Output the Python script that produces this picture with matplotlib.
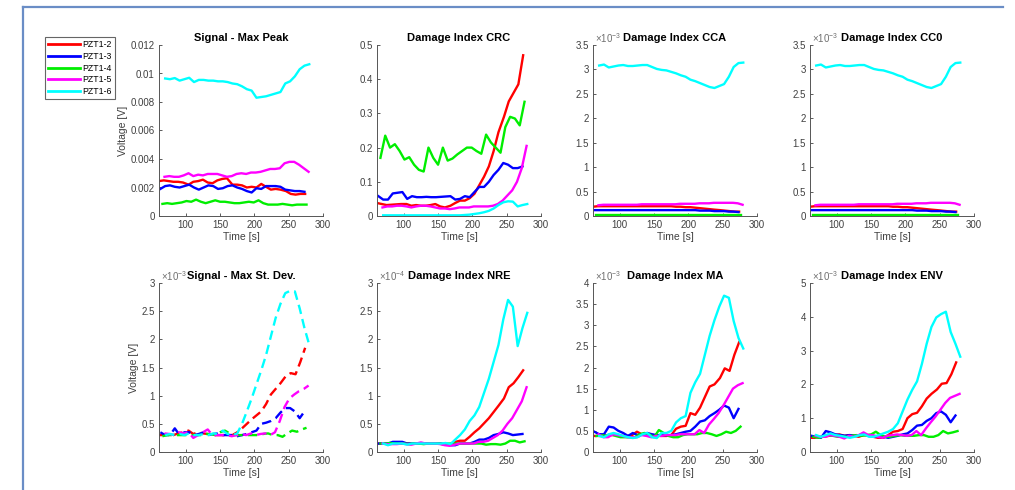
import matplotlib
matplotlib.use('Agg')
import matplotlib.pyplot as plt
from matplotlib.ticker import FuncFormatter
from matplotlib.lines import Line2D

plt.rcParams['font.family'] = ['Liberation Sans', 'DejaVu Sans']

# ---------------- data ----------------
sensors = ['PZT1-2', 'PZT1-3', 'PZT1-4', 'PZT1-5', 'PZT1-6']
colors = ['#ff0000', '#0000ff', '#00ee00', '#ff00ff', '#00ffff']

t_r = [61, 68, 75, 82, 89, 96, 104, 111, 118, 125, 132, 139, 146, 153, 160, 168, 175, 182, 189, 196,
       203, 210, 217, 224, 231, 238, 246, 253, 260, 267, 274]
t_b = [63, 70, 77, 84, 91, 98, 105, 112, 119, 126, 133, 140, 147, 154, 161, 168, 175, 182, 189, 196,
       203, 210, 217, 224, 231, 238, 245, 252, 259, 266, 273]
t_g = [66, 73, 80, 87, 94, 101, 108, 115, 122, 129, 136, 143, 150, 157, 164, 171, 178, 185, 192, 199,
       206, 213, 220, 227, 234, 241, 248, 255, 262, 269, 276]
t_m = [69, 76, 83, 90, 97, 104, 111, 118, 125, 132, 139, 146, 153, 160, 167, 174, 181, 188, 195, 202,
       209, 216, 223, 230, 237, 244, 251, 258, 265, 272, 279]
t_c = [70, 77, 84, 91, 98, 105, 112, 119, 126, 133, 140, 147, 154, 161, 168, 175, 182, 189, 196, 203,
       210, 217, 224, 231, 238, 245, 252, 259, 266, 273, 280]
times = [t_r, t_b, t_g, t_m, t_c]

# Signal - Max Peak [mV]
peak_r = [2.45, 2.5, 2.45, 2.4, 2.4, 2.35, 2.2, 2.4, 2.45, 2.55, 2.35, 2.3, 2.5, 2.6, 2.65, 2.2, 2.2, 2.15, 2.0, 2.05,
          2.0, 2.25, 2.05, 1.85, 1.9, 1.85, 1.75, 1.55, 1.5, 1.55, 1.55]
peak_b = [1.9, 2.1, 2.15, 2.05, 2.0, 2.1, 2.2, 2.0, 1.85, 2.0, 2.15, 2.1, 1.9, 1.95, 2.1, 2.15, 2.0, 1.9, 1.75, 1.65,
          1.95, 1.9, 2.1, 2.1, 2.1, 2.05, 1.85, 1.8, 1.75, 1.75, 1.7]
peak_g = [0.85, 0.9, 0.85, 0.9, 0.95, 1.05, 1.0, 1.15, 1.0, 0.9, 1.0, 1.1, 1.0, 1.0, 0.95, 0.9, 0.9, 0.95, 1.0, 0.95,
          1.1, 0.9, 0.8, 0.8, 0.8, 0.85, 0.8, 0.75, 0.8, 0.8, 0.8]
peak_m = [2.75, 2.8, 2.75, 2.75, 2.85, 3.0, 2.8, 2.9, 2.85, 2.95, 2.95, 2.95, 2.85, 2.75, 2.8, 2.95, 3.0, 2.95, 3.05, 3.05,
          3.1, 3.2, 3.3, 3.3, 3.35, 3.7, 3.8, 3.8, 3.6, 3.35, 3.1]
peak_c = [9.65, 9.6, 9.68, 9.5, 9.6, 9.7, 9.4, 9.55, 9.55, 9.5, 9.5, 9.45, 9.45, 9.4, 9.3, 9.25, 9.1, 8.9, 8.8, 8.3,
          8.35, 8.4, 8.5, 8.6, 8.7, 9.3, 9.45, 9.8, 10.3, 10.55, 10.65]

# Damage Index CRC
crc_r = [0.038, 0.035, 0.032, 0.033, 0.034, 0.035, 0.035, 0.03, 0.032, 0.03, 0.03, 0.032, 0.035, 0.028, 0.025, 0.03,
         0.038, 0.045, 0.045, 0.052, 0.065, 0.09, 0.115, 0.145, 0.19, 0.245, 0.29, 0.335, 0.36, 0.385, 0.47]
crc_b = [0.058, 0.048, 0.048, 0.066, 0.068, 0.07, 0.05, 0.058, 0.055, 0.055, 0.056, 0.055, 0.055, 0.056, 0.057, 0.058,
         0.048, 0.05, 0.058, 0.055, 0.07, 0.085, 0.085, 0.1, 0.12, 0.135, 0.155, 0.15, 0.14, 0.14, 0.145]
crc_g = [0.17, 0.235, 0.2, 0.21, 0.19, 0.165, 0.172, 0.15, 0.135, 0.13, 0.2, 0.17, 0.15, 0.2, 0.162, 0.168, 0.18, 0.19,
         0.2, 0.2, 0.19, 0.182, 0.238, 0.215, 0.2, 0.185, 0.26, 0.29, 0.285, 0.265, 0.334]
crc_m = [0.025, 0.028, 0.028, 0.03, 0.03, 0.028, 0.025, 0.028, 0.03, 0.03, 0.028, 0.025, 0.022, 0.022, 0.02, 0.022,
         0.025, 0.025, 0.025, 0.028, 0.028, 0.028, 0.028, 0.03, 0.035, 0.045, 0.06, 0.075, 0.1, 0.14, 0.205]
crc_c = [0.002, 0.002, 0.002, 0.002, 0.002, 0.002, 0.002, 0.002, 0.002, 0.002, 0.002, 0.002, 0.002, 0.002, 0.002,
         0.002, 0.002, 0.003, 0.004, 0.006, 0.008, 0.011, 0.015, 0.022, 0.032, 0.04, 0.043, 0.042, 0.028, 0.032, 0.035]

# Damage Index CCA / CC0 [x1e-3]
cca_r = [0.19, 0.2, 0.2, 0.2, 0.2, 0.2, 0.2, 0.2, 0.2, 0.2, 0.2, 0.2, 0.2, 0.2, 0.2, 0.2, 0.2, 0.19, 0.19, 0.18,
         0.18, 0.17, 0.16, 0.15, 0.14, 0.13, 0.12, 0.11, 0.1, 0.09, 0.09]
cca_b = [0.12, 0.12, 0.12, 0.12, 0.12, 0.12, 0.12, 0.12, 0.12, 0.12, 0.12, 0.12, 0.12, 0.12, 0.12, 0.12, 0.12, 0.12,
         0.12, 0.12, 0.12, 0.12, 0.11, 0.11, 0.11, 0.1, 0.1, 0.1, 0.09, 0.09, 0.08]
cca_g = [0.03, 0.03, 0.03, 0.03, 0.03, 0.03, 0.03, 0.03, 0.03, 0.03, 0.03, 0.03, 0.03, 0.03, 0.03, 0.03, 0.03, 0.03,
         0.03, 0.03, 0.03, 0.03, 0.03, 0.03, 0.03, 0.03, 0.03, 0.03, 0.03, 0.03, 0.03]
cca_m = [0.22, 0.23, 0.23, 0.23, 0.23, 0.23, 0.23, 0.23, 0.23, 0.24, 0.24, 0.24, 0.24, 0.24, 0.24, 0.24, 0.24, 0.25,
         0.25, 0.25, 0.25, 0.26, 0.26, 0.26, 0.27, 0.27, 0.27, 0.27, 0.27, 0.26, 0.23]
cca_c = [3.08, 3.1, 3.04, 3.06, 3.08, 3.09, 3.07, 3.07, 3.08, 3.09, 3.09, 3.05, 3.01, 2.99, 2.98, 2.95, 2.92, 2.88,
         2.85, 2.79, 2.76, 2.72, 2.68, 2.64, 2.62, 2.66, 2.7, 2.85, 3.05, 3.13, 3.14]
cc0_r, cc0_b, cc0_g, cc0_m, cc0_c = cca_r, cca_b, cca_g, cca_m, cca_c

# Signal - Max St. Dev. [x1e-3]
std_r = [0.3, 0.3, 0.32, 0.3, 0.33, 0.35, 0.38, 0.32, 0.35, 0.33, 0.32, 0.3, 0.3, 0.3, 0.3, 0.3, 0.35, 0.42, 0.5, 0.58,
         0.65, 0.72, 0.85, 1.02, 1.12, 1.22, 1.35, 1.4, 1.38, 1.6, 1.85]
std_b = [0.35, 0.3, 0.3, 0.42, 0.3, 0.35, 0.35, 0.3, 0.32, 0.35, 0.3, 0.32, 0.33, 0.3, 0.3, 0.3, 0.28, 0.3, 0.32, 0.35,
         0.38, 0.5, 0.52, 0.55, 0.6, 0.7, 0.78, 0.78, 0.72, 0.6, 0.72]
std_g = [0.28, 0.3, 0.3, 0.3, 0.3, 0.3, 0.3, 0.3, 0.3, 0.32, 0.32, 0.3, 0.35, 0.38, 0.33, 0.3, 0.3, 0.3, 0.3, 0.3,
         0.3, 0.32, 0.33, 0.3, 0.3, 0.27, 0.33, 0.38, 0.36, 0.4, 0.43]
std_m = [0.33, 0.32, 0.3, 0.35, 0.33, 0.35, 0.25, 0.3, 0.35, 0.4, 0.3, 0.3, 0.3, 0.3, 0.28, 0.3, 0.32, 0.3, 0.33, 0.3,
         0.32, 0.33, 0.3, 0.35, 0.55, 0.8, 0.95, 1.02, 1.08, 1.12, 1.18]
std_c = [0.3, 0.32, 0.3, 0.32, 0.3, 0.33, 0.3, 0.3, 0.32, 0.3, 0.33, 0.32, 0.38, 0.32, 0.3, 0.33, 0.5, 0.72, 0.95, 1.2,
         1.45, 1.72, 2.05, 2.38, 2.63, 2.82, 2.86, 2.85, 2.55, 2.2, 1.9]

# Damage Index NRE [x1e-4]
nre_r = [0.15, 0.15, 0.15, 0.15, 0.15, 0.15, 0.15, 0.15, 0.15, 0.15, 0.15, 0.15, 0.15, 0.15, 0.13, 0.14, 0.18, 0.2,
         0.2, 0.27, 0.35, 0.42, 0.51, 0.6, 0.71, 0.82, 0.95, 1.15, 1.22, 1.33, 1.45]
nre_b = [0.15, 0.15, 0.15, 0.18, 0.18, 0.18, 0.15, 0.15, 0.15, 0.15, 0.15, 0.15, 0.15, 0.15, 0.14, 0.12, 0.12, 0.15,
         0.15, 0.15, 0.18, 0.22, 0.22, 0.25, 0.3, 0.32, 0.35, 0.33, 0.3, 0.31, 0.32]
nre_g = [0.15, 0.15, 0.16, 0.15, 0.15, 0.15, 0.14, 0.15, 0.15, 0.14, 0.15, 0.15, 0.15, 0.14, 0.15, 0.15, 0.15, 0.15,
         0.15, 0.15, 0.15, 0.15, 0.13, 0.14, 0.14, 0.13, 0.15, 0.2, 0.2, 0.17, 0.19]
nre_m = [0.15, 0.14, 0.14, 0.14, 0.15, 0.14, 0.13, 0.15, 0.17, 0.15, 0.15, 0.15, 0.14, 0.12, 0.11, 0.13, 0.15, 0.15,
         0.15, 0.15, 0.18, 0.18, 0.2, 0.25, 0.3, 0.38, 0.5, 0.6, 0.75, 0.9, 1.15]
nre_c = [0.15, 0.12, 0.15, 0.15, 0.15, 0.13, 0.15, 0.15, 0.15, 0.15, 0.15, 0.15, 0.15, 0.16, 0.14, 0.22, 0.3, 0.4,
         0.55, 0.65, 0.8, 1.05, 1.3, 1.6, 1.9, 2.35, 2.7, 2.58, 1.88, 2.2, 2.47]

# Damage Index MA [x1e-3]
ma_r = [0.38, 0.38, 0.38, 0.4, 0.4, 0.4, 0.38, 0.38, 0.4, 0.48, 0.42, 0.4, 0.38, 0.4, 0.38, 0.38, 0.4, 0.55, 0.6, 0.62,
        0.92, 0.88, 1.05, 1.3, 1.55, 1.6, 1.75, 1.98, 1.92, 2.3, 2.6]
ma_b = [0.48, 0.42, 0.42, 0.6, 0.58, 0.5, 0.45, 0.38, 0.45, 0.4, 0.42, 0.45, 0.42, 0.4, 0.4, 0.4, 0.4, 0.42, 0.45, 0.48,
        0.5, 0.6, 0.72, 0.75, 0.85, 0.92, 1.0, 1.1, 1.05, 0.8, 1.02]
ma_g = [0.38, 0.4, 0.38, 0.42, 0.38, 0.35, 0.35, 0.35, 0.35, 0.42, 0.45, 0.42, 0.35, 0.52, 0.45, 0.38, 0.35, 0.35, 0.4,
        0.42, 0.42, 0.42, 0.45, 0.45, 0.42, 0.38, 0.42, 0.48, 0.45, 0.5, 0.6]
ma_m = [0.42, 0.35, 0.35, 0.42, 0.4, 0.38, 0.35, 0.35, 0.35, 0.4, 0.38, 0.35, 0.38, 0.38, 0.4, 0.4, 0.4, 0.42, 0.42,
        0.42, 0.42, 0.52, 0.45, 0.65, 0.78, 0.92, 1.1, 1.3, 1.5, 1.58, 1.63]
ma_c = [0.38, 0.35, 0.42, 0.45, 0.42, 0.38, 0.35, 0.33, 0.35, 0.42, 0.45, 0.35, 0.33, 0.45, 0.45, 0.5, 0.7, 0.8, 0.85,
        1.4, 1.65, 1.85, 2.3, 2.75, 3.12, 3.44, 3.7, 3.65, 3.1, 2.7, 2.45]

# Damage Index ENV [x1e-3]
env_r = [0.42, 0.42, 0.45, 0.45, 0.48, 0.5, 0.52, 0.48, 0.5, 0.48, 0.45, 0.5, 0.48, 0.45, 0.42, 0.42, 0.5, 0.6, 0.62,
         0.68, 1.0, 1.12, 1.16, 1.35, 1.58, 1.72, 1.85, 2.02, 2.04, 2.3, 2.65]
env_b = [0.48, 0.45, 0.42, 0.62, 0.58, 0.52, 0.5, 0.48, 0.5, 0.48, 0.5, 0.52, 0.48, 0.45, 0.48, 0.45, 0.42, 0.45, 0.48,
         0.52, 0.55, 0.65, 0.78, 0.8, 0.92, 1.0, 1.15, 1.2, 1.1, 0.88, 1.08]
env_g = [0.45, 0.42, 0.45, 0.5, 0.48, 0.45, 0.45, 0.45, 0.48, 0.5, 0.48, 0.5, 0.52, 0.6, 0.5, 0.45, 0.45, 0.48, 0.5,
         0.48, 0.48, 0.48, 0.5, 0.5, 0.45, 0.45, 0.5, 0.62, 0.55, 0.58, 0.62]
env_m = [0.48, 0.45, 0.45, 0.5, 0.48, 0.45, 0.4, 0.48, 0.45, 0.5, 0.58, 0.5, 0.5, 0.45, 0.42, 0.48, 0.5, 0.52, 0.5,
         0.48, 0.5, 0.62, 0.5, 0.7, 0.88, 1.05, 1.25, 1.45, 1.6, 1.66, 1.72]
env_c = [0.5, 0.45, 0.5, 0.55, 0.5, 0.48, 0.45, 0.42, 0.45, 0.5, 0.52, 0.45, 0.45, 0.5, 0.55, 0.6, 0.68, 0.85, 1.2,
         1.55, 1.84, 2.09, 2.6, 3.2, 3.7, 3.98, 4.08, 4.15, 3.55, 3.2, 2.82]

peak_V = [[v * 1e-3 for v in s] for s in (peak_r, peak_b, peak_g, peak_m, peak_c)]

panels = [
    # title, series, ymax, ystep, exponent, ylabel, dashed
    ('Signal - Max Peak', peak_V, 0.012, 0.002, None, 'Voltage [V]', False),
    ('Damage Index CRC', [crc_r, crc_b, crc_g, crc_m, crc_c], 0.5, 0.1, None, None, False),
    ('Damage Index CCA', [cca_r, cca_b, cca_g, cca_m, cca_c], 3.5, 0.5, -3, None, False),
    ('Damage Index CC0', [cc0_r, cc0_b, cc0_g, cc0_m, cc0_c], 3.5, 0.5, -3, None, False),
    ('Signal - Max St. Dev.', [std_r, std_b, std_g, std_m, std_c], 3.0, 0.5, -3, 'Voltage [V]', True),
    ('Damage Index NRE', [nre_r, nre_b, nre_g, nre_m, nre_c], 3.0, 0.5, -4, None, False),
    ('Damage Index MA', [ma_r, ma_b, ma_g, ma_m, ma_c], 4.0, 0.5, -3, None, False),
    ('Damage Index ENV', [env_r, env_b, env_g, env_m, env_c], 5.0, 1.0, -3, None, False),
]

xticks = [100, 150, 200, 250, 300]
xlim = (61, 300)

# ---------------- figure ----------------
W, H = 1015, 490
fig = plt.figure(figsize=(W / 100, H / 100), dpi=100)

lefts = [159, 377, 593, 810]
rows = [(45, 216), (283, 452)]
axw = 164
tick_col = '#404040'
axis_col = '#555555'

first_lines = []
for i, (title, series, ymax, ystep, expo, ylabel, dashed) in enumerate(panels):
    r, c = divmod(i, 4)
    top, bot = rows[r]
    ax = fig.add_axes([lefts[c] / W, 1 - bot / H, axw / W, (bot - top) / H])
    for s_i, (t, y) in enumerate(zip(times, series)):
        ln, = ax.plot(t, y, color=colors[s_i], lw=1.7,
                      linestyle=(0, (4, 2.2)) if dashed else '-', label=sensors[s_i])
        if i == 0:
            first_lines.append(ln)
    ax.set_xlim(*xlim)
    ax.set_ylim(0, ymax)
    nt = int(round(ymax / ystep))
    ax.set_yticks([k * ystep for k in range(nt + 1)])
    ax.set_xticks(xticks)
    ax.yaxis.set_major_formatter(FuncFormatter(lambda v, p: '%g' % round(v, 6)))
    for sp in ('top', 'right'):
        ax.spines[sp].set_visible(False)
    for sp in ('left', 'bottom'):
        ax.spines[sp].set_color(axis_col)
        ax.spines[sp].set_linewidth(0.7)
    ax.tick_params(direction='in', length=2.5, width=0.6, colors=tick_col, labelsize=7, pad=3)
    ax.set_title(title, fontsize=8, fontweight='bold', pad=3)
    ax.set_xlabel('Time [s]', fontsize=7.5, color=tick_col, labelpad=1)
    if ylabel:
        ax.set_ylabel(ylabel, fontsize=7.5, color=tick_col, labelpad=2)
    if expo is not None:
        ax.text(0.01, 1.0, r'$\mathregular{\times10^{%d}}$' % expo, transform=ax.transAxes,
                ha='left', va='bottom', fontsize=7, color='#707070')

leg = fig.legend(handles=first_lines, labels=sensors, loc='upper left',
                 bbox_to_anchor=(45 / W, 1 - 37 / H), fontsize=6.3, frameon=True,
                 fancybox=False, edgecolor='#666666', framealpha=1, handlelength=3.6,
                 handletextpad=0.3, labelspacing=0.32, borderpad=0.35, borderaxespad=0)
leg.get_frame().set_linewidth(0.8)
for lh in leg.get_lines():
    lh.set_linewidth(2)

# page frame (blue border of the screenshot)
fig.add_artist(Line2D([23 / W, 23 / W], [0, 1 - 7 / H], transform=fig.transFigure,
                      color='#6a8dc6', lw=1.6))
fig.add_artist(Line2D([23 / W, 1003 / W], [1 - 7 / H, 1 - 7 / H], transform=fig.transFigure,
                      color='#6a8dc6', lw=1.6))

fig.savefig('out.png', dpi=100)
